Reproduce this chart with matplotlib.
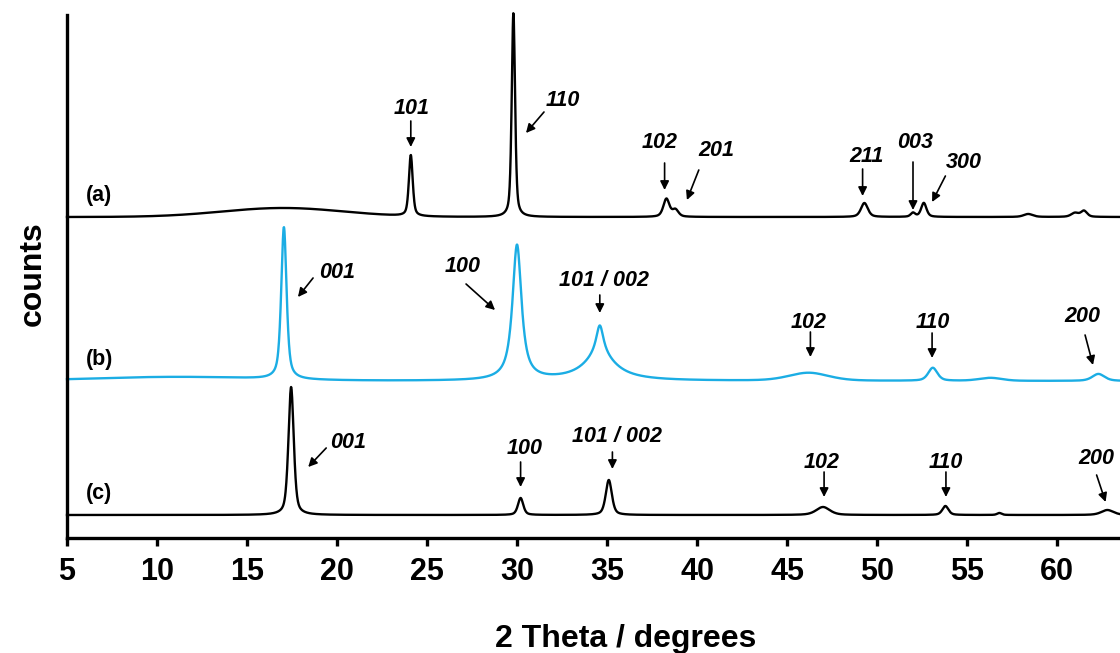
import matplotlib
matplotlib.use("Agg")
import matplotlib.pyplot as plt
import numpy as np

plt.rcParams['font.family'] = ['Liberation Sans', 'DejaVu Sans']

# peak lists: position (2theta), height, fwhm, lorentz fraction
pos_a = [17.0, 24.1, 29.8, 38.3, 38.8, 49.3, 52.0, 52.6, 58.4, 61.0, 61.5]
hgt_a = [9, 61, 204, 18, 7, 14, 4, 14, 3, 4, 6]
fwhm_a = [8.0, 0.25, 0.22, 0.4, 0.4, 0.45, 0.3, 0.35, 0.6, 0.5, 0.4]
eta_a = [0.0, 0.5, 0.5, 0.5, 0.5, 0.5, 0.5, 0.5, 0.5, 0.5, 0.5]

pos_b = [11.0, 17.05, 30.0, 34.6, 34.6, 46.2, 53.1, 56.3, 62.3]
hgt_b = [4, 152, 135, 30, 25, 8, 13, 3, 7]
fwhm_b = [11.0, 0.35, 0.6, 0.5, 2.2, 2.6, 0.6, 1.5, 0.8]
eta_b = [0.0, 0.6, 0.9, 1.0, 1.0, 0.3, 0.5, 0.3, 0.5]

pos_c = [17.45, 30.2, 35.1, 47.0, 53.8, 56.8, 62.8]
hgt_c = [128, 17, 35, 8, 9, 2, 5]
fwhm_c = [0.35, 0.35, 0.4, 0.9, 0.4, 0.3, 0.8]
eta_c = [0.5, 0.5, 0.5, 0.5, 0.5, 0.5, 0.5]

offsets = [321, 157, 23]
trace_names = ['(a)', '(b)', '(c)']
colors = ['black', '#1BADE4', 'black']

# hkl labels: text, text pos, arrow tail, arrow tip
labels = [
    ('101', (24.17, 430), (24.1, 417), (24.1, 391)),
    ('110', (32.56, 438), (31.5, 426), (30.5, 405)),
    ('102', (37.94, 395), (38.2, 375), (38.2, 348)),
    ('201', (41.1, 387), (40.1, 368), (39.44, 338)),
    ('211', (49.44, 382), (49.2, 369), (49.2, 342)),
    ('003', (52.1, 395), (52.0, 376), (52.0, 328)),
    ('300', (54.8, 376), (53.8, 362), (53.06, 336)),
    ('001', (20.0, 265), (18.67, 260), (17.83, 241)),
    ('100', (27.0, 271), (27.17, 254), (28.78, 228)),
    ('101 / 002', (34.83, 257), (34.6, 243), (34.6, 225)),
    ('102', (46.2, 216), (46.3, 206), (46.3, 181)),
    ('110', (53.1, 216), (53.06, 205), (53.06, 180)),
    ('200', (61.4, 221), (61.56, 203), (62.0, 173)),
    ('001', (20.6, 96), (19.4, 90), (18.4, 71)),
    ('100', (30.4, 90), (30.2, 76), (30.2, 51)),
    ('101 / 002', (35.56, 101), (35.3, 86), (35.3, 69)),
    ('102', (46.9, 76), (47.06, 66), (47.06, 41)),
    ('110', (53.83, 76), (53.83, 66), (53.83, 41)),
    ('200', (62.2, 80), (62.2, 63), (62.7, 36)),
]


def pattern(x, pos, hgt, fwhm, eta):
    y = np.zeros_like(x)
    for p, h, w, e in zip(pos, hgt, fwhm, eta):
        d = (x - p) / w
        lor = 1.0 / (1.0 + 4 * d**2)
        gau = np.exp(-4 * np.log(2) * d**2)
        y += h * (e * lor + (1 - e) * gau)
    return y


x = np.linspace(5, 63.5, 4000)
ys = [pattern(x, pos_a, hgt_a, fwhm_a, eta_a),
      pattern(x, pos_b, hgt_b, fwhm_b, eta_b),
      pattern(x, pos_c, hgt_c, fwhm_c, eta_c)]

fig = plt.figure(figsize=(11.2, 6.53), dpi=100)
ax = fig.add_axes([67/1120, 115/653, 1 - 67/1120, 523/653])

for y, off, c in zip(ys, offsets, colors):
    ax.plot(x, y + off, color=c, lw=1.7, clip_on=False)

ax.set_xlim(5, 63.5)
ax.set_ylim(0, 523)

for name, off in zip(trace_names, offsets):
    ax.text(6.8, off + 21, name, fontsize=15.5, fontweight='bold', ha='center', va='center')

for txt, tp, tail, tip in labels:
    ax.text(tp[0], tp[1], txt, fontsize=15.5, fontweight='bold', style='italic',
            ha='center', va='center')
    ax.annotate('', xy=tip, xytext=tail,
                arrowprops=dict(arrowstyle='-|>', color='black', lw=1.2,
                                mutation_scale=13, shrinkA=0, shrinkB=0))

for s in ['top', 'right']:
    ax.spines[s].set_visible(False)
for s in ['left', 'bottom']:
    ax.spines[s].set_linewidth(2.4)
ax.set_yticks([])
ax.set_xticks(np.arange(5, 61, 5))
ax.tick_params(axis='x', direction='out', length=6, width=2.4, labelsize=22, pad=8)
for t in ax.get_xticklabels():
    t.set_fontweight('bold')

fig.text(626/1120, 6/653, '2 Theta / degrees', fontsize=23, fontweight='bold',
         ha='center', va='baseline')
fig.text(33/1120, (653 - 274)/653, 'counts', fontsize=23, fontweight='bold',
         rotation=90, ha='center', va='center')

fig.savefig('out.png', dpi=100)
